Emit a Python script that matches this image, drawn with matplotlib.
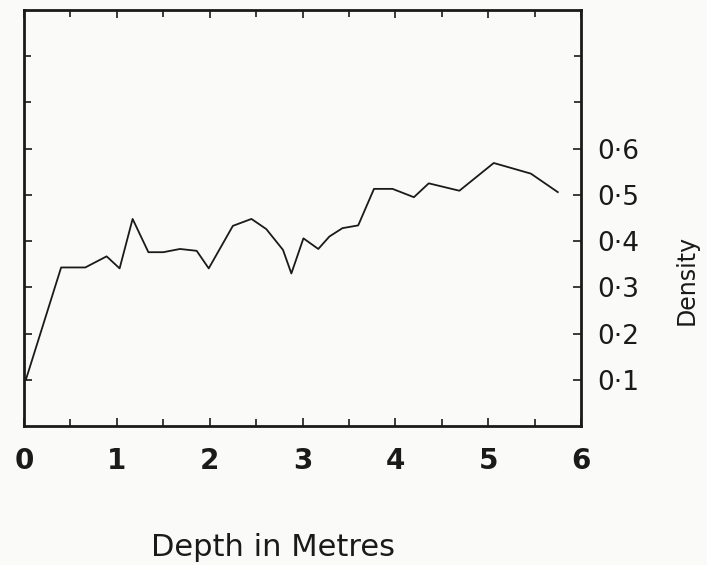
import matplotlib
matplotlib.use("Agg")
import matplotlib.pyplot as plt

# depth (m) and snow density
depth = [0.02, 0.40, 0.66, 0.89, 1.03, 1.17, 1.34, 1.50, 1.68, 1.86, 1.99,
         2.25, 2.45, 2.61, 2.79, 2.88, 3.01, 3.17, 3.29, 3.43, 3.60, 3.77,
         3.97, 4.20, 4.36, 4.69, 5.06, 5.46, 5.75]
density = [0.10, 0.343, 0.343, 0.367, 0.341, 0.448, 0.376, 0.376, 0.383, 0.379, 0.341,
           0.433, 0.448, 0.426, 0.381, 0.330, 0.406, 0.383, 0.410, 0.428, 0.434, 0.513,
           0.513, 0.495, 0.525, 0.509, 0.569, 0.546, 0.506]

x_ticks = [0, 1, 2, 3, 4, 5, 6]
x_tick_labels = ["0", "1", "2", "3", "4", "5", "6"]
y_ticks = [0.1, 0.2, 0.3, 0.4, 0.5, 0.6]
y_tick_labels = ["0·1", "0·2", "0·3", "0·4", "0·5", "0·6"]

bg = "#fafbf9"
ink = "#1a1a1a"

fig = plt.figure(figsize=(7.07, 5.65), dpi=100, facecolor=bg)
ax = fig.add_axes([24 / 707, (565 - 426) / 565, (581 - 24) / 707, (426 - 10) / 565])
ax.set_facecolor(bg)

ax.plot(depth, density, color=ink, linewidth=1.3)

ax.set_xlim(0, 6)
ax.set_ylim(0, 0.9)

for s in ax.spines.values():
    s.set_linewidth(2.0)
    s.set_color(ink)

ax.set_xticks(x_ticks, x_tick_labels)
ax.set_xticks([0.5, 1.5, 2.5, 3.5, 4.5, 5.5], minor=True)
ax.set_yticks(y_ticks, y_tick_labels)
ax.set_yticks([0.7, 0.8], minor=True)

ax.tick_params(axis="both", which="both", direction="in", top=True, right=True,
               color=ink, width=1.2)
ax.tick_params(which="major", length=6)
ax.tick_params(which="minor", length=5)
ax.tick_params(axis="x", labelsize=20, pad=15, labelcolor=ink)
ax.tick_params(axis="y", labelleft=False, labelright=True, labelsize=19, pad=12,
               labelcolor=ink)
for lbl in ax.get_xticklabels():
    lbl.set_fontweight("bold")

fig.text(687 / 707, 1 - 280 / 565, "Density", rotation=90, fontsize=17,
         ha="center", va="center", color=ink)
fig.text(273 / 707, 1 - 547 / 565, "Depth in Metres", fontsize=22,
         ha="center", va="center", color=ink)

fig.savefig("out.png", dpi=100, facecolor=bg)
